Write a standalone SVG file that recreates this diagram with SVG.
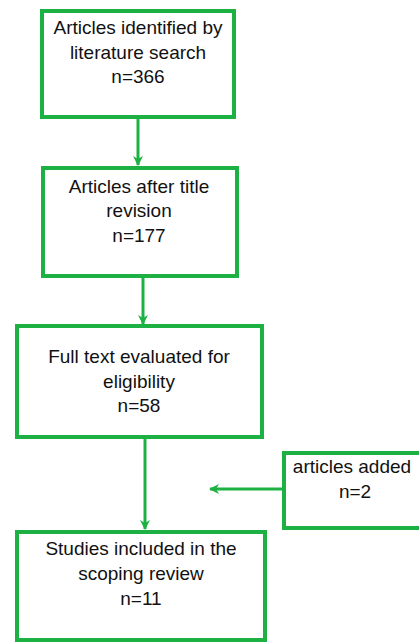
<svg xmlns="http://www.w3.org/2000/svg" width="419" height="642" viewBox="0 0 419 642">
<style>
.box{fill:#fff;stroke:#1db043;stroke-width:4}
.ln{stroke:#1db043;stroke-width:3;fill:none}
text{font-family:"Liberation Sans",Arial,sans-serif;font-size:19px;fill:#111;text-anchor:middle}
</style>
<defs>
<marker id="ah" markerWidth="10" markerHeight="10" refX="9" refY="5" orient="auto" markerUnits="userSpaceOnUse">
<path d="M0,0 L10,5 L0,10 L3,5 Z" fill="#1db043"/>
</marker>
</defs>
<rect width="419" height="642" fill="#fff"/>
<g id="connectors">
<line class="ln" x1="138" y1="117" x2="138" y2="165" marker-end="url(#ah)"/>
<line class="ln" x1="143" y1="276" x2="143" y2="324" marker-end="url(#ah)"/>
<line class="ln" x1="145" y1="437" x2="145" y2="529" marker-end="url(#ah)"/>
<line class="ln" x1="283" y1="489" x2="210" y2="489" marker-end="url(#ah)"/>
</g>
<g id="n1">
<rect class="box" x="42" y="11" width="192" height="106"/>
<text x="138" y="34">Articles identified by</text>
<text x="138" y="58.5">literature search</text>
<text x="138" y="83">n=366</text>
</g>
<g id="n2">
<rect class="box" x="43" y="168" width="194" height="108"/>
<text x="139" y="192.5">Articles after title</text>
<text x="139" y="217">revision</text>
<text x="139" y="241.5">n=177</text>
</g>
<g id="n3">
<rect class="box" x="17" y="326" width="245" height="111"/>
<text x="139" y="363">Full text evaluated for</text>
<text x="139" y="387.5">eligibility</text>
<text x="139" y="412">n=58</text>
</g>
<g id="n4">
<rect class="box" x="284" y="453" width="140" height="75"/>
<text x="352" y="473">articles added</text>
<text x="355" y="498">n=2</text>
</g>
<g id="n5">
<rect class="box" x="17" y="532" width="248" height="108"/>
<text x="141" y="555">Studies included in the</text>
<text x="141" y="580">scoping review</text>
<text x="141" y="605">n=11</text>
</g>
</svg>
